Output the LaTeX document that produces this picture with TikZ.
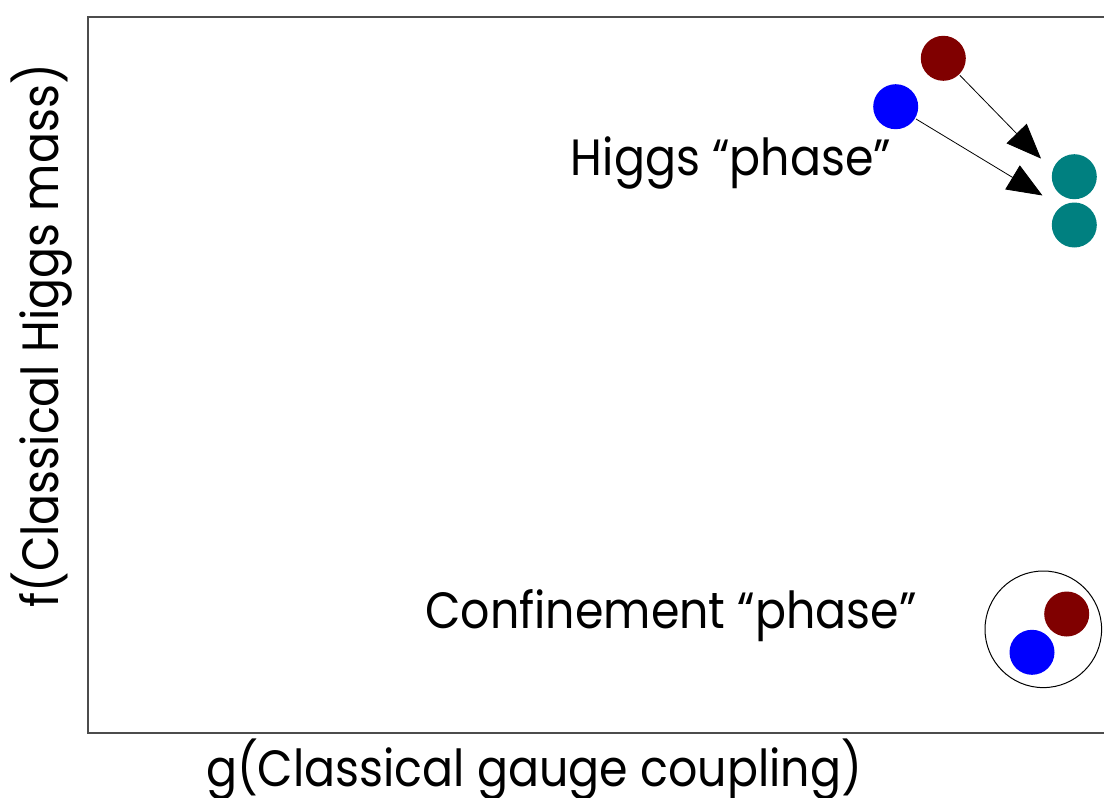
\documentclass[tikz,border=0pt]{standalone}
\usepackage{fontspec}
\usepackage{graphicx}
\setmainfont{Poppins}
\usetikzlibrary{arrows.meta}
\definecolor{darkred}{RGB}{128,0,0}
\definecolor{pureblue}{RGB}{0,0,255}
\definecolor{tealdot}{RGB}{0,128,128}
% labels are set slightly condensed
\newcommand\condensed[1]{\scalebox{0.9}[1]{#1}}
\begin{document}
\begin{tikzpicture}[x=1pt,y=-1pt,
  ball/.style={circle,inner sep=0pt,minimum size=45pt,fill=#1},
  lbl/.style={font=\fontsize{51}{60}\selectfont,inner sep=0pt,anchor=base},
  mover/.style={-{Triangle[length=35pt,width=28pt]},line width=0.8pt,shorten >=1pt,shorten <=1pt}]
\useasboundingbox (0,0) rectangle (1104,798);
% plot frame (open to the right)
\draw[line width=1.3pt,draw=black!70] (1110,17) -- (88,17) -- (88,733) -- (1110,733);
% axis titles
\node[lbl] (xlab) at (534,786) {\condensed{g(Classical gauge coupling)}};
\node[lbl,rotate=90] (ylab) at (58,336) {\condensed{f(Classical Higgs mass)}};
% phase labels
\node[lbl] (higgs) at (731,175) {\condensed{Higgs “phase”}};
\node[lbl] (conf) at (671,628) {\condensed{Confinement “phase”}};
% Higgs phase: free charges moving to the condensate
\node[ball=darkred] (r1) at (943.3,58.3) {};
\node[ball=pureblue] (b1) at (895.7,106.7) {};
\node[ball=tealdot] (t1) at (1074.3,176.7) {};
\node[ball=tealdot] (t2) at (1074.3,225) {};
\coordinate (tipA) at (1041.7,159.3);
\coordinate (tipB) at (1043.3,196);
\draw[mover] (r1) -- (tipA);
\draw[mover] (b1) -- (tipB);
% confinement phase: bound pair
\node[circle,draw,line width=1pt,minimum size=116.6pt,inner sep=0pt] (bound) at (1043.3,629.3) {};
\node[ball=darkred] (r2) at (1066.7,614) {};
\node[ball=pureblue] (b2) at (1032,652.3) {};
\end{tikzpicture}
\end{document}
